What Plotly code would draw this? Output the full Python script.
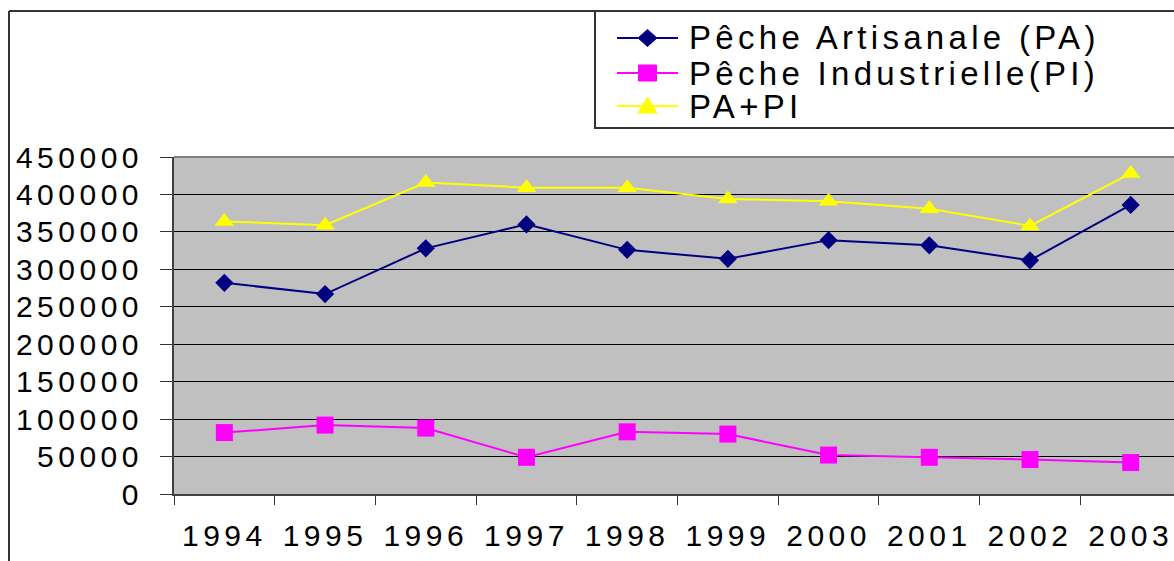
import plotly.graph_objects as go

years = ["1994", "1995", "1996", "1997", "1998", "1999", "2000", "2001", "2002", "2003"]
pa = [282000, 267000, 328000, 360000, 326000, 314000, 339000, 332000, 312000, 386000]
pi = [82000, 92000, 88000, 49000, 83000, 80000, 52000, 49000, 46000, 42000]
total = [364000, 359000, 416000, 409000, 409000, 394000, 391000, 381000, 358000, 428000]
y_ticks = [0, 50000, 100000, 150000, 200000, 250000, 300000, 350000, 400000, 450000]
names = ["Pêche Artisanale (PA)", "Pêche Industrielle(PI)", "PA+PI"]
colors = ["#000080", "#FF00FF", "#FFFF00"]

W, H = 1174, 561
L, R, T, B = 174, 1174, 157, 494
FONT = "Arial, Liberation Sans, sans-serif"


def spaced(s, ls=4.5):
    return f'<span style="letter-spacing:{ls}px">{s}</span>'


def px(x):
    return (x - L) / (R - L)


def py(y):
    return (B - y) / (B - T)


fig = go.Figure()
fig.add_trace(go.Scatter(x=years, y=pa, name=names[0], mode="lines+markers",
                         line=dict(color=colors[0], width=2),
                         marker=dict(symbol="diamond", size=14, color=colors[0])))
fig.add_trace(go.Scatter(x=years, y=pi, name=names[1], mode="lines+markers",
                         line=dict(color=colors[1], width=2),
                         marker=dict(symbol="square", size=17, color=colors[1])))
fig.add_trace(go.Scatter(x=years, y=total, name=names[2], mode="lines+markers",
                         line=dict(color=colors[2], width=2),
                         marker=dict(symbol="triangle-up", size=17, color=colors[2])))

shapes = []
# outer chart border (left and top)
shapes.append(dict(type="line", xref="paper", yref="paper", x0=px(9), x1=px(9), y0=py(580), y1=py(11),
                   line=dict(color="#333333", width=2)))
shapes.append(dict(type="line", xref="paper", yref="paper", x0=px(9), x1=px(1200), y0=py(11), y1=py(11),
                   line=dict(color="#333333", width=2)))
# plot area top edge
shapes.append(dict(type="line", xref="paper", yref="paper", x0=0, x1=1, y0=1, y1=1,
                   line=dict(color="#808080", width=2)))
# legend box
shapes.append(dict(type="rect", xref="paper", yref="paper", x0=px(595), x1=px(1200), y0=py(128), y1=py(11),
                   line=dict(color="#333333", width=2), fillcolor="rgba(0,0,0,0)"))

rows = [38, 73, 106]
lx0, lx1, lcx = 617, 678, 647.5
annotations = []
for i, (nm, c, ry) in enumerate(zip(names, colors, rows)):
    shapes.append(dict(type="line", xref="paper", yref="paper", x0=px(lx0), x1=px(lx1), y0=py(ry), y1=py(ry),
                       line=dict(color=c, width=2)))
    if i == 0:
        hw, hh = 9.5, 8.5
        path = (f"M{px(lcx - hw)},{py(ry)} L{px(lcx)},{py(ry - hh)} L{px(lcx + hw)},{py(ry)} "
                f"L{px(lcx)},{py(ry + hh)} Z")
    elif i == 1:
        hw, hh = 9, 8
        path = (f"M{px(lcx - hw)},{py(ry - hh)} L{px(lcx + hw)},{py(ry - hh)} L{px(lcx + hw)},{py(ry + hh)} "
                f"L{px(lcx - hw)},{py(ry + hh)} Z")
    else:
        hw = 9.5
        path = (f"M{px(lcx - hw)},{py(ry + 7)} L{px(lcx + hw)},{py(ry + 7)} L{px(lcx)},{py(ry - 9)} Z")
    shapes.append(dict(type="path", xref="paper", yref="paper", path=path,
                       fillcolor=c, line=dict(color=c, width=1)))
    annotations.append(dict(xref="paper", yref="paper", x=px(687), y=py(ry), xanchor="left", yanchor="middle",
                            text=spaced(nm, 4.3), showarrow=False,
                            font=dict(family=FONT, size=33, color="#000000")))

fig.update_layout(
    width=W, height=H,
    margin=dict(l=L, r=W - R, t=T, b=H - B, autoexpand=False),
    paper_bgcolor="#FFFFFF", plot_bgcolor="#C0C0C0",
    showlegend=False,
    shapes=shapes, annotations=annotations,
    xaxis=dict(type="category", range=[-0.5, 9.43], tickmode="array", tickvals=years,
               ticktext=[spaced(y) for y in years], tickson="boundaries",
               ticks="outside", ticklen=9, tickwidth=1, tickcolor="#333333",
               showline=True, linecolor="#404040", linewidth=2, showgrid=False,
               tickfont=dict(family=FONT, size=30, color="#000000"), ticklabelstandoff=14),
    yaxis=dict(range=[0, 450000], tickmode="array", tickvals=y_ticks,
               ticktext=[spaced(str(v)) for v in y_ticks],
               ticks="outside", ticklen=12, tickwidth=1, tickcolor="#333333",
               showline=True, linecolor="#404040", linewidth=2,
               showgrid=True, gridcolor="#000000", gridwidth=1, zeroline=False,
               tickfont=dict(family=FONT, size=30, color="#000000"), ticklabelstandoff=11),
)

fig.write_html("out.html", config={"displayModeBar": False},
               post_script="document.body.style.margin='0';document.body.style.overflow='hidden';")
